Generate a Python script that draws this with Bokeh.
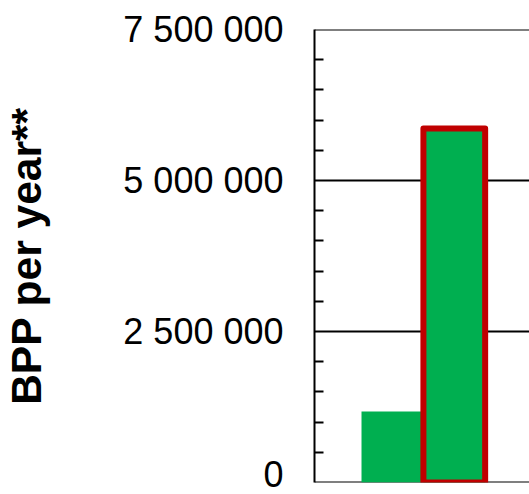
from bokeh.plotting import figure
from bokeh.models import FixedTicker, Range1d, Span
from bokeh.embed import file_html
from bokeh.resources import INLINE

# values per category (BPP per year)
categories = ["Baseline", "Scenario"]
bpp_per_year = [1175000, 5860000]
positions = [1, 2]

y_ticks = [0, 2500000, 5000000, 7500000]
y_tick_labels = ["0", "2 500 000", "5 000 000", "7 500 000"]
y_minor_ticks = [500000 * i for i in range(16) if (500000 * i) % 2500000 != 0]
y_title = "BPP per year**"

p = figure(width=529, height=494, output_backend="svg", toolbar_location=None,
           x_axis_location=None,
           x_range=Range1d(-0.23, 3.2), y_range=Range1d(y_ticks[0], y_ticks[-1]),
           min_border_left=313, min_border_right=0, min_border_top=29,
           min_border_bottom=12)
p.outline_line_color = None
p.background_fill_color = "white"

# horizontal gridlines at major ticks
p.xgrid.visible = False
p.yaxis.ticker = FixedTicker(ticks=y_ticks, minor_ticks=y_minor_ticks)
p.ygrid.grid_line_color = "black"
p.ygrid.grid_line_width = 2
# the grid skips lines lying on the range bounds, so draw those as spans
for t in (y_ticks[0], y_ticks[-1]):
    p.add_layout(Span(location=t, dimension="width", line_color="black",
                      line_width=2, level="underlay"))

ax = p.yaxis[0]
ax.major_label_overrides = dict(zip(y_ticks, y_tick_labels))
ax.major_label_text_font = "Liberation Sans"
ax.major_label_text_font_size = "36px"
ax.major_label_text_color = "black"
ax.major_label_standoff = 31
ax.major_tick_in = 0
ax.major_tick_out = 0
ax.minor_tick_in = 9
ax.minor_tick_out = 0
ax.minor_tick_line_color = "black"
ax.minor_tick_line_width = 2
ax.axis_line_color = "black"
ax.axis_line_width = 2
ax.axis_label = y_title
ax.axis_label_text_font = "Liberation Sans"
ax.axis_label_text_font_style = "bold"
ax.axis_label_text_font_size = "42.5px"
ax.axis_label_text_color = "black"
ax.axis_label_standoff = 70

green = "#00AF50"
p.vbar(x=[positions[0]], top=[bpp_per_year[0]], width=0.96, bottom=0,
       fill_color=green, line_color=None)
p.vbar(x=[positions[1]], top=[bpp_per_year[1]], width=0.985, bottom=0,
       fill_color=green, line_color="#C00000", line_width=6, line_join="round")

open("out.html", "w").write(file_html(p, INLINE))
